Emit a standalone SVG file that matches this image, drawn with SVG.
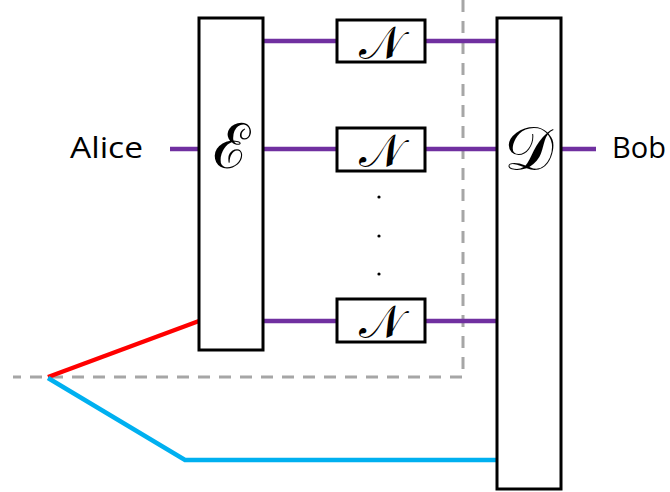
<svg xmlns="http://www.w3.org/2000/svg" width="670" height="492" viewBox="0 0 670 492">
<style>
.box{fill:#fff;stroke:#000;stroke-width:3}
.q{stroke:#7030A0;stroke-width:4.5;fill:none}
.dash{stroke:#A6A6A6;stroke-width:3;fill:none;stroke-dasharray:12 9}
.lbl{font-family:"Open Sans","Liberation Sans",sans-serif;font-size:29px;fill:#000}
.cal{font-family:"DejaVu Serif","Liberation Serif",serif;fill:#000;text-anchor:middle}
</style>
<rect width="670" height="492" fill="#fff"/>
<g id="boundary">
<path class="dash" d="M463 0 V377 H13"/>
</g>
<g id="connectors">
<path class="q" d="M170 149 H199"/>
<path class="q" d="M263 41 H337 M425 41 H497"/>
<path class="q" d="M263 149 H337 M425 149 H497"/>
<path class="q" d="M263 321 H337 M425 321 H497"/>
<path class="q" d="M561 149 H596"/>
<path d="M48 377 L199 321" stroke="#FF0000" stroke-width="4.5" fill="none"/>
<path d="M48 378 L185 460 H497" stroke="#00B0F0" stroke-width="4.5" fill="none"/>
</g>
<g id="encoder">
<rect class="box" x="199" y="18" width="64" height="332"/>
<text class="cal" x="231" y="168" font-size="62">ℰ</text>
</g>
<g id="decoder">
<rect class="box" x="497" y="18" width="64" height="471"/>
<text class="cal" x="528" y="170" font-size="62">𝒟</text>
</g>
<g id="channel1">
<rect class="box" x="337" y="20" width="88" height="42"/>
<text class="cal" x="381" y="59" font-size="46">𝒩</text>
</g>
<g id="channel2">
<rect class="box" x="337" y="128" width="88" height="43"/>
<text class="cal" x="381" y="167" font-size="46">𝒩</text>
</g>
<g id="channel3">
<rect class="box" x="337" y="299" width="88" height="43"/>
<text class="cal" x="381" y="338" font-size="46">𝒩</text>
</g>
<g id="dots" fill="#000">
<circle cx="379" cy="197" r="1.6"/>
<circle cx="379" cy="236" r="1.6"/>
<circle cx="379" cy="274" r="1.6"/>
</g>
<g id="alice">
<text class="lbl" x="70" y="158" textLength="73" lengthAdjust="spacingAndGlyphs">Alice</text>
</g>
<g id="bob">
<text class="lbl" x="612" y="158" font-size="31">Bob</text>
</g>
</svg>
